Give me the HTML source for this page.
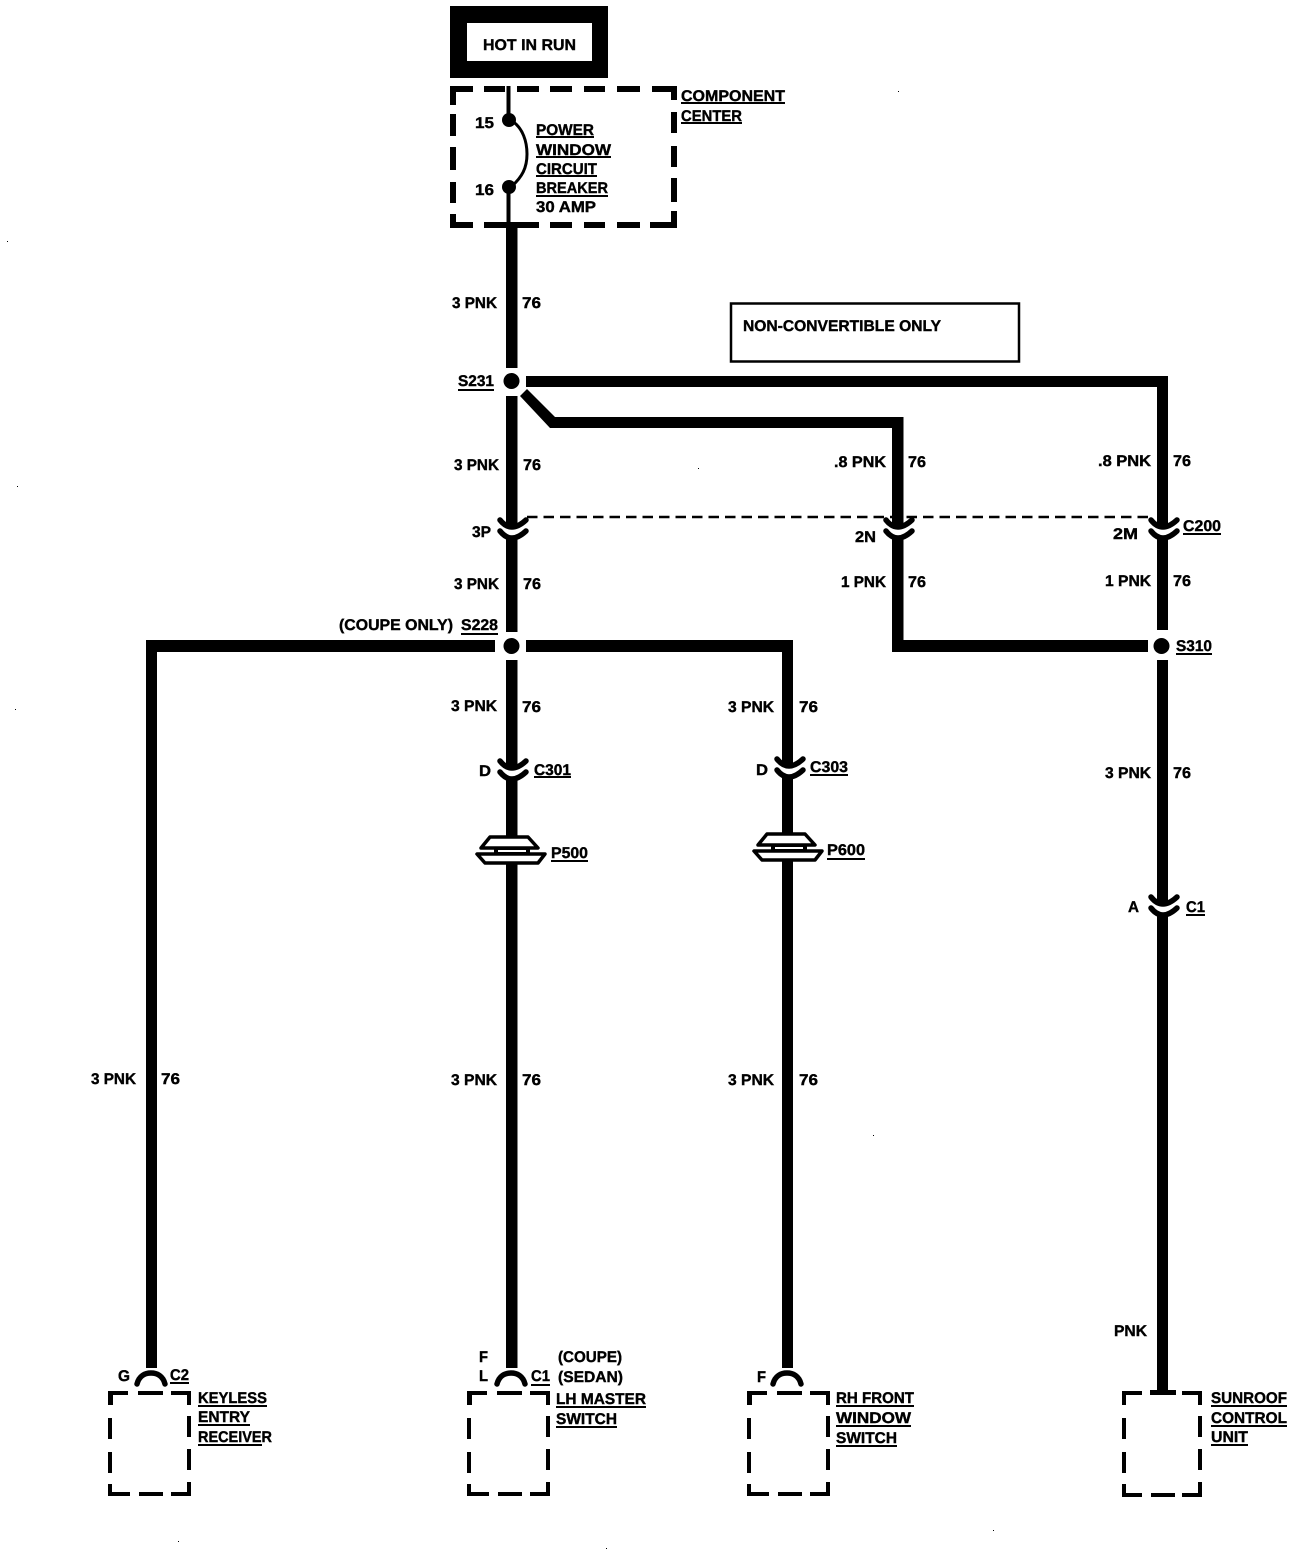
<!DOCTYPE html>
<html><head><meta charset="utf-8"><style>
html,body{margin:0;padding:0;background:#fff}
svg{display:block}
text{font-family:"Liberation Sans",sans-serif;font-weight:bold;font-size:15.5px;fill:#000;stroke:#000;stroke-width:.4;text-rendering:geometricPrecision}
.u{stroke:#000;stroke-width:2;fill:none}
.a{fill:none;stroke:#000;stroke-width:5.500;stroke-linecap:round}
.w{fill:#fff;stroke:#000;stroke-width:3.500;stroke-linejoin:round}
</style></head><body>
<svg width="1312" height="1558" viewBox="0 0 1312 1558" xmlns="http://www.w3.org/2000/svg">
<rect width="1312" height="1558" fill="#fff"/>
<!-- hot box -->
<rect x="450" y="6" width="158" height="72"/>
<rect x="467" y="23" width="125" height="38" fill="#fff"/>
<text x="483" y="50" textLength="93" lengthAdjust="spacingAndGlyphs">HOT IN RUN</text>
<!-- component center dashed -->
<g>
<rect x="450" y="86" width="23" height="6"/><rect x="484" y="86" width="21" height="6"/><rect x="517" y="86" width="22" height="6"/><rect x="550" y="86" width="22" height="6"/><rect x="584" y="86" width="21" height="6"/><rect x="617" y="86" width="23" height="6"/><rect x="652" y="86" width="25" height="6"/>
<rect x="450" y="86" width="6" height="19"/><rect x="450" y="114" width="6" height="22"/><rect x="450" y="147" width="6" height="23"/><rect x="450" y="182" width="6" height="21"/><rect x="450" y="214" width="6" height="14"/>
<rect x="671" y="86" width="6" height="14"/><rect x="671" y="112" width="6" height="21"/><rect x="671" y="146" width="6" height="21"/><rect x="671" y="178" width="6" height="24"/><rect x="671" y="211" width="6" height="17"/>
<rect x="450" y="222" width="23" height="6"/><rect x="484" y="222" width="55" height="6"/><rect x="550" y="222" width="22" height="6"/><rect x="584" y="222" width="21" height="6"/><rect x="617" y="222" width="23" height="6"/><rect x="650" y="222" width="27" height="6"/>
</g>
<rect x="506.500" y="86" width="4" height="34"/>
<rect x="506.500" y="187" width="4" height="36"/>
<circle cx="509" cy="120" r="7"/><circle cx="509" cy="187" r="7"/>
<path d="M512 121 C523 128 527 142 527 154 C527 168 522 177 512 186" fill="none" stroke="#000" stroke-width="3"/>
<text x="475" y="128" textLength="19" lengthAdjust="spacingAndGlyphs">15</text>
<text x="475" y="195" textLength="19" lengthAdjust="spacingAndGlyphs">16</text>
<text x="536" y="135" textLength="58" lengthAdjust="spacingAndGlyphs">POWER</text><line class="u" x1="536" x2="594" y1="137" y2="137"/>
<text x="536" y="155" textLength="75" lengthAdjust="spacingAndGlyphs">WINDOW</text><line class="u" x1="536" x2="611" y1="157" y2="157"/>
<text x="536" y="174" textLength="61" lengthAdjust="spacingAndGlyphs">CIRCUIT</text><line class="u" x1="536" x2="597" y1="176" y2="176"/>
<text x="536" y="193" textLength="72" lengthAdjust="spacingAndGlyphs">BREAKER</text><line class="u" x1="536" x2="608" y1="196" y2="196"/>
<text x="536" y="212" textLength="60" lengthAdjust="spacingAndGlyphs">30 AMP</text>
<text x="681" y="101" textLength="104" lengthAdjust="spacingAndGlyphs">COMPONENT</text><line class="u" x1="681" x2="785" y1="103" y2="103"/>
<text x="681" y="121" textLength="61" lengthAdjust="spacingAndGlyphs">CENTER</text><line class="u" x1="681" x2="742" y1="123" y2="123"/>
<!-- non-convertible -->
<rect x="731" y="303.500" width="288" height="58" fill="none" stroke="#000" stroke-width="2.500"/>
<text x="743" y="331" textLength="198" lengthAdjust="spacingAndGlyphs">NON-CONVERTIBLE ONLY</text>
<!-- wires -->
<g>
<rect x="506" y="228" width="11.500" height="140"/>
<rect x="506" y="396" width="11.500" height="131"/>
<rect x="506" y="538" width="11.500" height="94"/>
<rect x="506" y="660" width="11.500" height="108"/>
<rect x="506" y="779" width="11.500" height="60"/>
<rect x="506" y="861" width="11.500" height="507"/>
<rect x="526" y="376" width="642" height="11"/>
<rect x="1157" y="376" width="11" height="151"/>
<rect x="1157" y="538" width="11" height="92"/>
<rect x="1157" y="660" width="11" height="244"/>
<rect x="1157" y="915" width="11" height="477"/>
<rect x="892" y="417" width="11.500" height="110"/>
<path d="M520 396 L527 389 L555 417 L903 417 L903 428 L550 428 Z"/>
<rect x="892" y="538" width="11.500" height="114"/>
<rect x="892" y="640" width="256" height="12"/>
<rect x="526" y="640" width="267" height="12"/>
<rect x="782" y="640" width="11" height="126"/>
<rect x="782" y="777" width="11" height="60"/>
<rect x="782" y="858" width="11" height="510"/>
<rect x="146" y="640" width="349" height="12"/>
<rect x="146" y="640" width="11" height="728"/>
</g>
<circle cx="511.500" cy="381" r="8"/><circle cx="511.500" cy="646" r="8"/><circle cx="1161.500" cy="646" r="8"/>
<line x1="527" x2="1152" y1="517" y2="517" stroke="#000" stroke-width="2.500" stroke-dasharray="10.500 6"/>
<!-- connectors (down) -->
<g>
<path class="a" d="M500 520 Q511 534 526 520"/><path class="a" d="M500 531 Q511 545 526 531"/>
<path class="a" d="M886 520 Q897 534 912 520"/><path class="a" d="M886 531 Q897 545 912 531"/>
<path class="a" d="M1151 520 Q1162 534 1177 520"/><path class="a" d="M1151 531 Q1162 545 1177 531"/>
<path class="a" d="M500 761 Q511 775 526 761"/><path class="a" d="M500 772 Q511 786 526 772"/>
<path class="a" d="M777 759 Q788 773 803 759"/><path class="a" d="M777 770 Q788 784 803 770"/>
<path class="a" d="M1151 897 Q1162 911 1177 897"/><path class="a" d="M1151 908 Q1162 922 1177 908"/>
</g>
<!-- pass-throughs -->
<g>
<rect x="494" y="846" width="36" height="9"/><rect x="498" y="850" width="28" height="2" fill="#fff"/>
<path class="w" d="M481 848 L490 837 L528 837 L538 848 Z"/>
<path class="w" d="M477 854 L545 854 L538 863 L485 863 Z"/>
<rect x="771" y="843" width="36" height="9"/><rect x="775" y="847" width="28" height="2" fill="#fff"/>
<path class="w" d="M758 845 L767 834 L805 834 L815 845 Z"/>
<path class="w" d="M754 851 L822 851 L815 860 L762 860 Z"/>
</g>
<!-- bottom connectors -->
<path class="a" d="M137 1384 C139 1376 145 1373 151 1373 C157 1373 163 1376 165 1384"/>
<path class="a" d="M497 1384 C499 1376 505 1373 511 1373 C517 1373 523 1376 525 1384"/>
<path class="a" d="M773 1384 C775 1376 781 1373 787 1373 C793 1373 799 1376 801 1384"/>
<!-- bottom boxes -->
<g>
<g id="b1"><rect x="108" y="1391" width="20" height="4"/><rect x="138" y="1391" width="25" height="4"/><rect x="171" y="1391" width="20" height="4"/>
<rect x="108" y="1391" width="5" height="14"/><rect x="108" y="1418" width="4" height="21"/><rect x="108" y="1452" width="4" height="21"/><rect x="108" y="1484" width="4" height="12"/>
<rect x="187" y="1391" width="4" height="14"/><rect x="187" y="1416" width="4" height="21"/><rect x="187" y="1449" width="4" height="21"/><rect x="187" y="1482" width="4" height="14"/>
<rect x="108" y="1492" width="22" height="4"/><rect x="139" y="1492" width="24" height="4"/><rect x="171" y="1492" width="20" height="4"/></g>
<use href="#b1" x="359"/>
<use href="#b1" x="639"/>
<rect x="1122" y="1391" width="20" height="4"/><rect x="1150" y="1390" width="26" height="5"/><rect x="1182" y="1391" width="20" height="4"/>
<rect x="1122" y="1391" width="4" height="14"/><rect x="1122" y="1418" width="4" height="21"/><rect x="1122" y="1452" width="4" height="21"/><rect x="1122" y="1484" width="4" height="13"/>
<rect x="1198" y="1391" width="4" height="14"/><rect x="1198" y="1416" width="4" height="21"/><rect x="1198" y="1449" width="4" height="21"/><rect x="1198" y="1482" width="4" height="15"/>
<rect x="1122" y="1493" width="20" height="4"/><rect x="1151" y="1493" width="24" height="4"/><rect x="1182" y="1493" width="20" height="4"/>
</g>
<!-- wire labels -->
<text x="452" y="308" textLength="45" lengthAdjust="spacingAndGlyphs">3 PNK</text><text x="522" y="308" textLength="19" lengthAdjust="spacingAndGlyphs">76</text>
<text x="458" y="386" textLength="36" lengthAdjust="spacingAndGlyphs">S231</text><line class="u" x1="458" x2="494" y1="390" y2="390"/>
<text x="454" y="470" textLength="45" lengthAdjust="spacingAndGlyphs">3 PNK</text><text x="523" y="470" textLength="18" lengthAdjust="spacingAndGlyphs">76</text>
<text x="834" y="467" textLength="52" lengthAdjust="spacingAndGlyphs">.8 PNK</text><text x="908" y="467" textLength="18" lengthAdjust="spacingAndGlyphs">76</text>
<text x="1098" y="466" textLength="53" lengthAdjust="spacingAndGlyphs">.8 PNK</text><text x="1173" y="466" textLength="18" lengthAdjust="spacingAndGlyphs">76</text>
<text x="472" y="537" textLength="19" lengthAdjust="spacingAndGlyphs">3P</text>
<text x="855" y="542" textLength="21" lengthAdjust="spacingAndGlyphs">2N</text>
<text x="1113" y="539" textLength="25" lengthAdjust="spacingAndGlyphs">2M</text>
<text x="1183" y="531" textLength="38" lengthAdjust="spacingAndGlyphs">C200</text><line class="u" x1="1183" x2="1221" y1="534" y2="534"/>
<text x="454" y="589" textLength="45" lengthAdjust="spacingAndGlyphs">3 PNK</text><text x="523" y="589" textLength="18" lengthAdjust="spacingAndGlyphs">76</text>
<text x="841" y="587" textLength="45" lengthAdjust="spacingAndGlyphs">1 PNK</text><text x="908" y="587" textLength="18" lengthAdjust="spacingAndGlyphs">76</text>
<text x="1105" y="586" textLength="46" lengthAdjust="spacingAndGlyphs">1 PNK</text><text x="1173" y="586" textLength="18" lengthAdjust="spacingAndGlyphs">76</text>
<text x="339" y="630" textLength="114" lengthAdjust="spacingAndGlyphs">(COUPE ONLY)</text>
<text x="461" y="630" textLength="37" lengthAdjust="spacingAndGlyphs">S228</text><line class="u" x1="461" x2="498" y1="634" y2="634"/>
<text x="1176" y="651" textLength="36" lengthAdjust="spacingAndGlyphs">S310</text><line class="u" x1="1176" x2="1212" y1="654" y2="654"/>
<text x="451" y="711" textLength="46" lengthAdjust="spacingAndGlyphs">3 PNK</text><text x="522" y="712" textLength="19" lengthAdjust="spacingAndGlyphs">76</text>
<text x="728" y="712" textLength="46" lengthAdjust="spacingAndGlyphs">3 PNK</text><text x="799" y="712" textLength="19" lengthAdjust="spacingAndGlyphs">76</text>
<text x="1105" y="778" textLength="46" lengthAdjust="spacingAndGlyphs">3 PNK</text><text x="1173" y="778" textLength="18" lengthAdjust="spacingAndGlyphs">76</text>
<text x="479" y="776" textLength="12" lengthAdjust="spacingAndGlyphs">D</text>
<text x="534" y="775" textLength="37" lengthAdjust="spacingAndGlyphs">C301</text><line class="u" x1="534" x2="571" y1="777" y2="777"/>
<text x="756" y="775" textLength="12" lengthAdjust="spacingAndGlyphs">D</text>
<text x="810" y="772" textLength="38" lengthAdjust="spacingAndGlyphs">C303</text><line class="u" x1="810" x2="848" y1="775" y2="775"/>
<text x="551" y="858" textLength="37" lengthAdjust="spacingAndGlyphs">P500</text><line class="u" x1="551" x2="588" y1="861" y2="861"/>
<text x="827" y="855" textLength="38" lengthAdjust="spacingAndGlyphs">P600</text><line class="u" x1="827" x2="865" y1="859" y2="859"/>
<text x="1128" y="912" textLength="11" lengthAdjust="spacingAndGlyphs">A</text>
<text x="1186" y="912" textLength="19" lengthAdjust="spacingAndGlyphs">C1</text><line class="u" x1="1186" x2="1205" y1="915" y2="915"/>
<text x="91" y="1084" textLength="45" lengthAdjust="spacingAndGlyphs">3 PNK</text><text x="161" y="1084" textLength="19" lengthAdjust="spacingAndGlyphs">76</text>
<text x="451" y="1085" textLength="46" lengthAdjust="spacingAndGlyphs">3 PNK</text><text x="522" y="1085" textLength="19" lengthAdjust="spacingAndGlyphs">76</text>
<text x="728" y="1085" textLength="46" lengthAdjust="spacingAndGlyphs">3 PNK</text><text x="799" y="1085" textLength="19" lengthAdjust="spacingAndGlyphs">76</text>
<text x="1114" y="1336" textLength="33" lengthAdjust="spacingAndGlyphs">PNK</text>
<text x="118" y="1381" textLength="12" lengthAdjust="spacingAndGlyphs">G</text>
<text x="170" y="1380" textLength="19" lengthAdjust="spacingAndGlyphs">C2</text><line class="u" x1="170" x2="189" y1="1383" y2="1383"/>
<text x="479" y="1362" textLength="9" lengthAdjust="spacingAndGlyphs">F</text>
<text x="479" y="1381" textLength="9" lengthAdjust="spacingAndGlyphs">L</text>
<text x="531" y="1381" textLength="19" lengthAdjust="spacingAndGlyphs">C1</text><line class="u" x1="531" x2="550" y1="1385" y2="1385"/>
<text x="558" y="1362" textLength="64" lengthAdjust="spacingAndGlyphs">(COUPE)</text>
<text x="558" y="1382" textLength="65" lengthAdjust="spacingAndGlyphs">(SEDAN)</text>
<text x="556" y="1404" textLength="90" lengthAdjust="spacingAndGlyphs">LH MASTER</text><line class="u" x1="556" x2="646" y1="1407" y2="1407"/>
<text x="556" y="1424" textLength="61" lengthAdjust="spacingAndGlyphs">SWITCH</text><line class="u" x1="556" x2="617" y1="1427" y2="1427"/>
<text x="198" y="1403" textLength="69" lengthAdjust="spacingAndGlyphs">KEYLESS</text><line class="u" x1="198" x2="267" y1="1406" y2="1406"/>
<text x="198" y="1422" textLength="52" lengthAdjust="spacingAndGlyphs">ENTRY</text><line class="u" x1="198" x2="250" y1="1425" y2="1425"/>
<text x="198" y="1442" textLength="74" lengthAdjust="spacingAndGlyphs">RECEIVER</text><line class="u" x1="198" x2="262" y1="1445" y2="1445"/>
<text x="757" y="1382" textLength="9" lengthAdjust="spacingAndGlyphs">F</text>
<text x="836" y="1403" textLength="78" lengthAdjust="spacingAndGlyphs">RH FRONT</text><line class="u" x1="836" x2="914" y1="1406" y2="1406"/>
<text x="836" y="1423" textLength="75" lengthAdjust="spacingAndGlyphs">WINDOW</text><line class="u" x1="836" x2="911" y1="1426" y2="1426"/>
<text x="836" y="1443" textLength="61" lengthAdjust="spacingAndGlyphs">SWITCH</text><line class="u" x1="836" x2="897" y1="1446" y2="1446"/>
<text x="1211" y="1403" textLength="76" lengthAdjust="spacingAndGlyphs">SUNROOF</text><line class="u" x1="1211" x2="1287" y1="1406" y2="1406"/>
<text x="1211" y="1423" textLength="76" lengthAdjust="spacingAndGlyphs">CONTROL</text><line class="u" x1="1211" x2="1287" y1="1426" y2="1426"/>
<text x="1211" y="1442" textLength="37" lengthAdjust="spacingAndGlyphs">UNIT</text><line class="u" x1="1211" x2="1248" y1="1445" y2="1445"/>
<!-- specks -->
<g><rect x="7" y="241" width="1" height="1"/><rect x="17" y="486" width="1" height="1"/><rect x="15" y="709" width="1" height="1"/><rect x="873" y="1135" width="1" height="1"/><rect x="698" y="468" width="1" height="1"/><rect x="898" y="91" width="1" height="1"/><rect x="178" y="1541" width="1" height="1"/><rect x="993" y="1530" width="1" height="1"/><rect x="606" y="1548" width="1" height="1"/></g>
</svg>
</body></html>
